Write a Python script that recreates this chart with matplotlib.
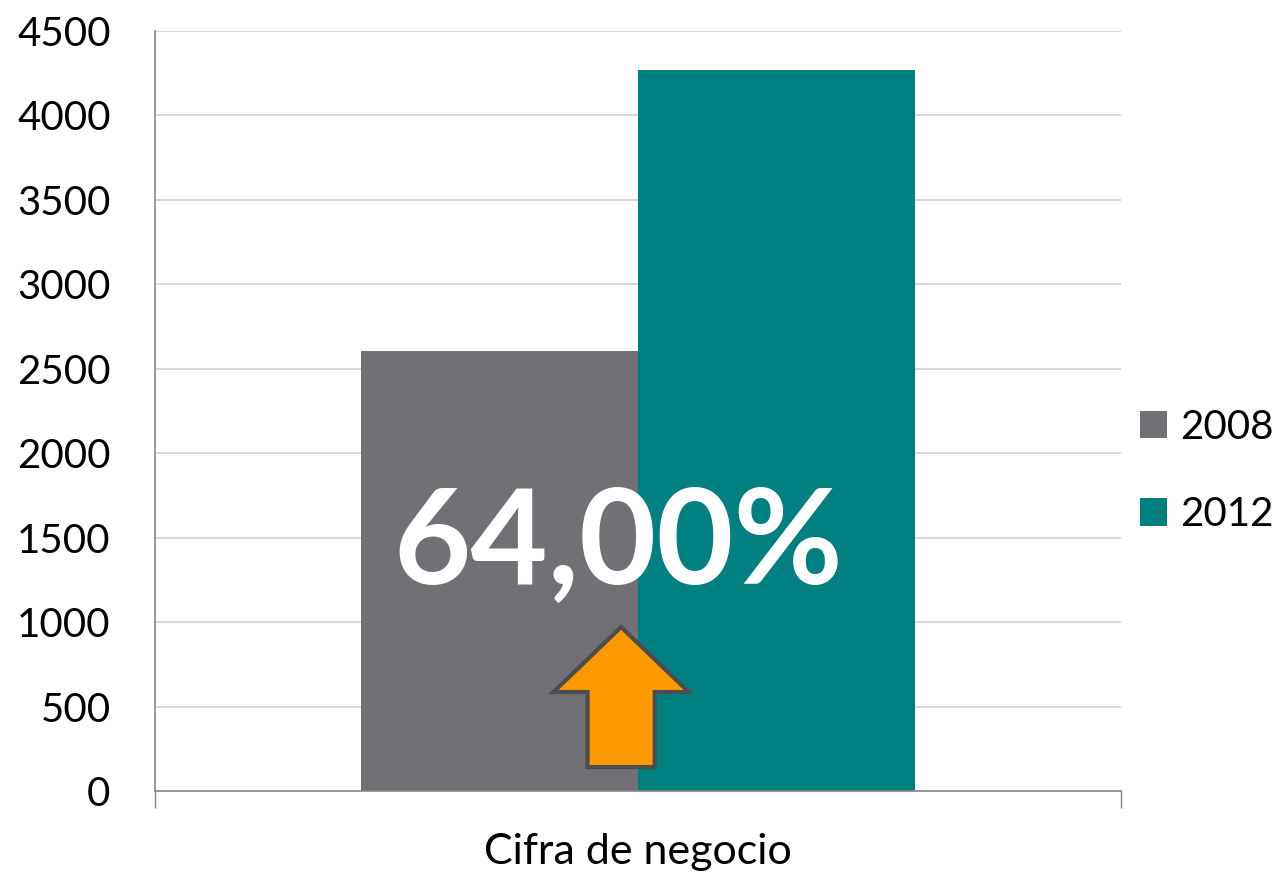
import matplotlib.pyplot as plt
from matplotlib.patches import FancyArrow, Patch

plt.rcParams['font.family'] = ['Lato', 'DejaVu Sans']

category = "Cifra de negocio"
years = ["2008", "2012"]
values = [2605, 4272]
colors = ["#727075", "#008080"]
growth_label = "64,00%"
yticks = list(range(0, 4501, 500))

fig = plt.figure(figsize=(12.79, 8.74), dpi=100)
ax = fig.add_axes([155 / 1279, 83 / 874, 966 / 1279, 760 / 874])

width = 0.574
offsets = [-width / 2, width / 2]
for off, v, c in zip(offsets, values, colors):
    ax.bar(off, v, width=width, color=c, zorder=2)

ax.set_xlim(-1, 1)
ax.set_ylim(0, 4500)
ax.set_yticks(yticks)
ax.set_yticklabels([str(t) for t in yticks], fontsize=29)
ax.set_xticks([-1, 1])
ax.set_xticklabels([])
ax.tick_params(axis='x', length=12, color="#868686", width=1)
ax.tick_params(axis='y', length=0, pad=32)
ax.grid(axis='y', color="#D0D0D0", lw=1.2, zorder=0)
for side in ("top", "right"):
    ax.spines[side].set_visible(False)
for side in ("left", "bottom"):
    ax.spines[side].set_color("#868686")
    ax.spines[side].set_linewidth(1.2)
ax.text(0.5, -0.055, category, transform=ax.transAxes, ha="center", va="top",
        fontsize=31)

# growth arrow and label
arrow = FancyArrow(-0.035, 142, 0, 829, width=0.139, head_width=0.28,
                   head_length=385, length_includes_head=True,
                   facecolor="#FF9900", edgecolor="#4D4D4D", lw=3, zorder=4)
ax.add_patch(arrow)
ax.text(-0.04, 1450, growth_label, ha="center", va="center", fontsize=96,
        fontweight="bold", color="white", zorder=5)

handles = [Patch(facecolor=c, edgecolor="none") for c in colors]
fig.legend(handles, years, loc="center left",
           bbox_to_anchor=(1140 / 1279, 1 - 471 / 874),
           frameon=False, fontsize=29, handlelength=0.67, handleheight=0.67,
           handletextpad=0.32, labelspacing=1.25, borderpad=0, borderaxespad=0)

fig.savefig("out.png", dpi=100)
